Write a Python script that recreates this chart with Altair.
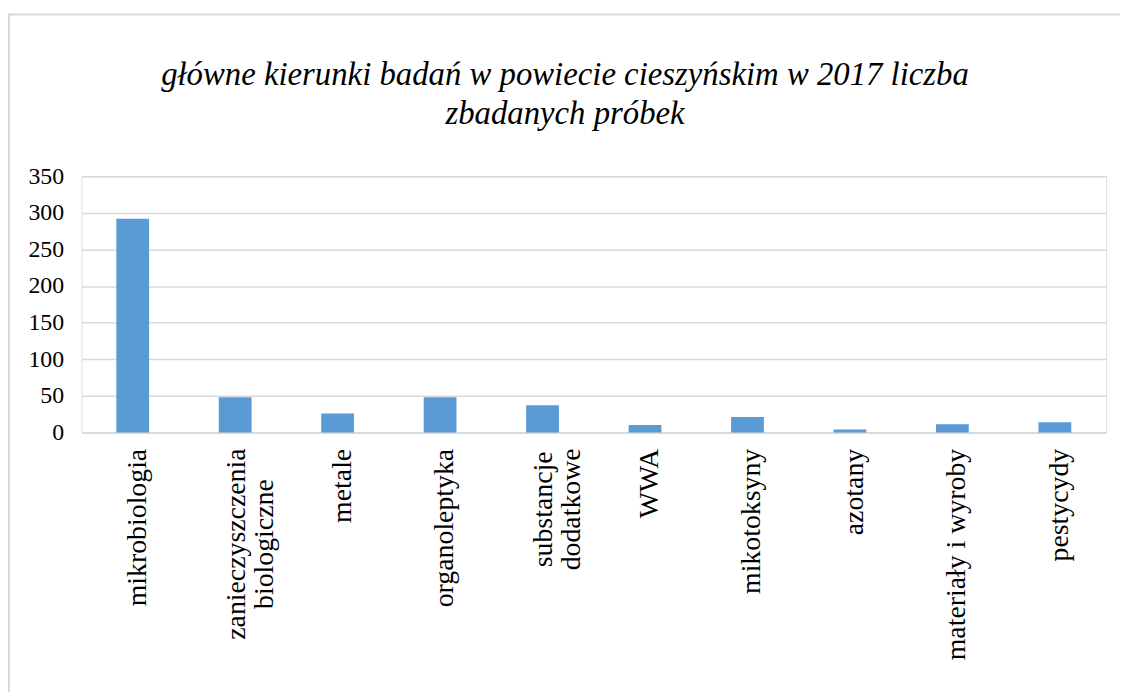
import altair as alt
import pandas as pd

categories = [
    "mikrobiologia",
    "zanieczyszczenia\nbiologiczne",
    "metale",
    "organoleptyka",
    "substancje\ndodatkowe",
    "WWA",
    "mikotoksyny",
    "azotany",
    "materiały i wyroby",
    "pestycydy",
]
values = [292, 48, 26, 48, 37, 10, 21, 4, 11, 14]
y_ticks = [0, 50, 100, 150, 200, 250, 300, 350]
title_lines = [
    "główne kierunki badań w powiecie cieszyńskim w 2017 liczba",
    "zbadanych próbek",
]

df = pd.DataFrame({"kategoria": categories, "liczba": values})

SERIF = "Liberation Serif"
MULTI = "indexof(datum.label, '\\n') >= 0"

bars = alt.Chart(df).mark_bar(color="#5B9BD5").encode(
    x=alt.X(
        "kategoria:N",
        sort=categories,
        scale=alt.Scale(paddingInner=0.68, paddingOuter=0.34),
        axis=alt.Axis(
            title=None,
            labelAngle=-90,
            labelExpr="split(datum.label, '\\n')",
            labelFont=SERIF,
            labelFontSize=28,
            labelColor="#000000",
            labelAlign={
                "condition": {"test": MULTI, "value": "center"},
                "value": "right",
            },
            labelPadding={
                "condition": [
                    {"test": "indexof(datum.label, 'zanieczyszczenia') >= 0", "value": 112},
                    {"test": "indexof(datum.label, 'substancje') >= 0", "value": 77},
                ],
                "value": 16,
            },
            labelOffset={
                "condition": {"test": MULTI, "value": 2},
                "value": 5,
            },
            labelLineHeight=28,
            labelLimit=400,
            ticks=False,
            domain=True,
            domainColor="#d9d9d9",
            domainWidth=1.5,
        ),
    ),
    y=alt.Y(
        "liczba:Q",
        scale=alt.Scale(domain=[0, 350], nice=False),
        axis=alt.Axis(
            title=None,
            values=y_ticks,
            labelFont=SERIF,
            labelFontSize=24,
            labelColor="#000000",
            labelPadding=18,
            ticks=False,
            domain=False,
            grid=True,
            gridColor="#d9d9d9",
            gridWidth=1.5,
        ),
    ),
)

frame = alt.Chart(alt.Data(values=[{"a": 1}])).mark_rect(
    fill=None, stroke="#d9d9d9", strokeWidth=2
).encode(
    x=alt.value(-73),
    x2=alt.value(1200),
    y=alt.value(-163),
    y2=alt.value(600),
)

title = alt.Chart(alt.Data(values=[{"a": 1}])).mark_text(
    text=title_lines,
    font=SERIF,
    fontStyle="italic",
    fontSize=33,
    lineHeight=39,
    align="center",
    baseline="alphabetic",
    color="#000000",
).encode(
    x=alt.value(487),
    y=alt.value(-92),
)

chart = alt.layer(frame, title, bars).properties(
    width=1032,
    height=258,
    autosize=alt.AutoSizeParams(type="none"),
    padding={"left": 74, "top": 167, "right": 14, "bottom": 259},
).configure_view(stroke=None).configure(background="white")

chart.save("out.html", embed_options={"renderer": "svg", "actions": False})
